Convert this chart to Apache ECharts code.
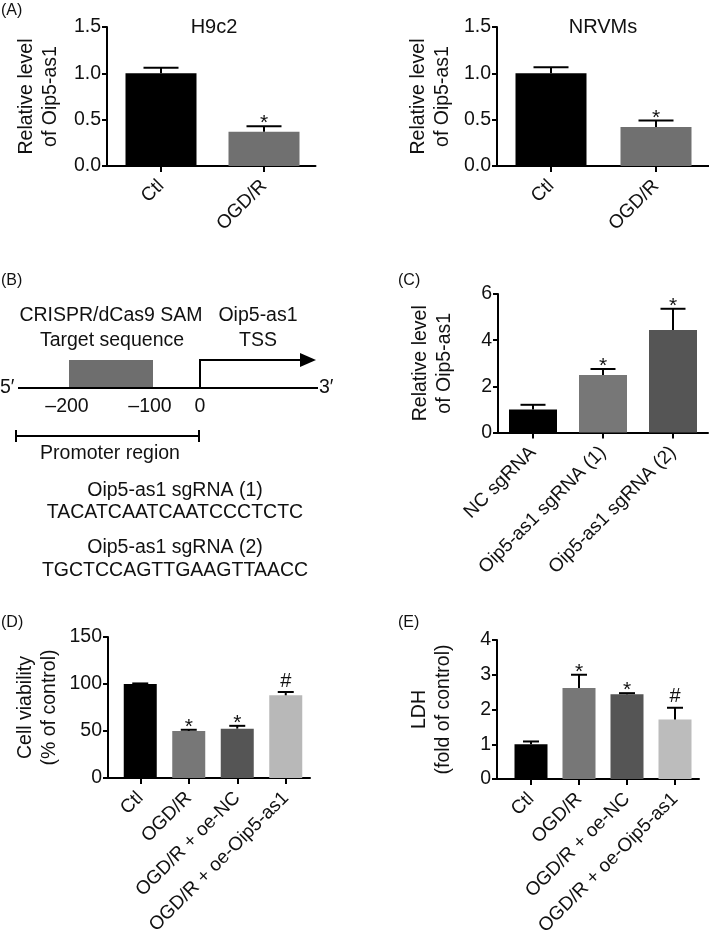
<!DOCTYPE html>
<html><head><meta charset="utf-8">
<script src="https://cdn.jsdelivr.net/npm/echarts@6/dist/echarts.min.js"></script>
<style>html,body{margin:0;padding:0;background:#fff}#c{width:709px;height:938px}</style>
</head><body><div id="c"></div>
<script>
// ---------- data ----------
const catsA = ['Ctl', 'OGD/R'];
const h9c2Vals = [1.0, 0.37];
const h9c2Err = [0.06, 0.06];
const h9c2Marks = ['', '*'];
const nrvmVals = [1.0, 0.42];
const nrvmErr = [0.065, 0.07];
const nrvmMarks = ['', '*'];
const yTicksA = [0, 0.5, 1.0, 1.5];

const catsC = ['NC sgRNA', 'Oip5-as1 sgRNA (1)', 'Oip5-as1 sgRNA (2)'];
const sgVals = [1.0, 2.49, 4.44];
const sgErr = [0.2, 0.26, 0.92];
const sgMarks = ['', '*', '*'];
const yTicksC = [0, 2, 4, 6];

const catsDE = ['Ctl', 'OGD/R', 'OGD/R + oe-NC', 'OGD/R + oe-Oip5-as1'];
const viabVals = [100, 50, 52.5, 88];
const viabErr = [0.6, 1.3, 3.0, 3.5];
const viabMarks = ['', '*', '*', '#'];
const yTicksD = [0, 50, 100, 150];

const ldhVals = [1.0, 2.62, 2.44, 1.71];
const ldhErr = [0.08, 0.38, 0.03, 0.34];
const ldhMarks = ['', '*', '*', '#'];
const yTicksE = [0, 1, 2, 3, 4];

// ---------- styling ----------
const FONT = '"Liberation Sans", Arial, Helvetica, sans-serif';
const INK = '#111';
const grids = [], xAxes = [], yAxes = [], series = [];

function panel(p) {
  const gi = grids.length;
  const ymin = p.ticks[0], ymax = p.ticks[p.ticks.length - 1], step = p.ticks[1] - p.ticks[0];
  const h = p.bottom - p.top;
  // frame grid: y axis + full-length x axis line
  grids.push({left: p.axisX, top: p.top, width: p.catLeft + p.catWidth - p.axisX, height: h, containLabel: false, outerBoundsMode: 'none'});
  xAxes.push({gridIndex: gi, type: 'value', min: 0, max: 1,
    axisLine: {show: true, lineStyle: {color: '#000', width: 2}}, axisTick: {show: false},
    axisLabel: {show: false}, splitLine: {show: false}});
  yAxes.push({gridIndex: gi, type: 'value', min: ymin, max: ymax, interval: step,
    axisLine: {show: true, lineStyle: {color: '#000', width: 2}},
    axisTick: {show: true, length: 5, lineStyle: {color: '#000', width: 2}},
    axisLabel: {margin: 6, fontSize: 19.5, color: INK, fontFamily: FONT, formatter: v => p.fmt(v)},
    splitLine: {show: false},
    name: p.yName, nameLocation: 'middle', nameRotate: 90, nameGap: p.nameGap,
    nameTextStyle: {fontSize: 19.5, lineHeight: 24, color: INK, fontFamily: FONT}});
  // data grid
  const gd = gi + 1;
  grids.push({left: p.catLeft, top: p.top, width: p.catWidth, height: h, containLabel: false, outerBoundsMode: 'none'});
  xAxes.push({gridIndex: gd, type: 'category', data: p.cats,
    axisLine: {show: false},
    axisTick: {show: true, alignWithLabel: true, length: 6, lineStyle: {color: '#000', width: 2}},
    axisLabel: {rotate: 45, margin: 17, fontSize: 19, color: INK, fontFamily: FONT, interval: 0}});
  yAxes.push({gridIndex: gd, type: 'value', min: ymin, max: ymax, show: false});
  series.push({type: 'bar', xAxisIndex: gd, yAxisIndex: gd, barWidth: p.barW, silent: true,
    data: p.vals.map((v, i) => ({value: v, itemStyle: {color: p.colors[i]}}))});
  series.push({type: 'custom', xAxisIndex: gd, yAxisIndex: gd, clip: false, silent: true, z: 5,
    data: p.vals.map((v, i) => [i, v, p.err[i]]),
    renderItem: (params, api) => {
      const i = api.value(0), v = api.value(1), e = api.value(2);
      const b = api.coord([i, v]), t = api.coord([i, v + e]);
      const cw = p.capW / 2;
      const ch = [
        {type: 'line', shape: {x1: b[0], y1: b[1], x2: t[0], y2: t[1]}, style: {stroke: '#000', lineWidth: 2}},
        {type: 'line', shape: {x1: t[0] - cw, y1: t[1], x2: t[0] + cw, y2: t[1]}, style: {stroke: '#000', lineWidth: 2}}
      ];
      const m = p.marks[params.dataIndex];
      if (m) ch.push({type: 'text', x: t[0], y: t[1] + (m === '*' ? 8 : -1),
        style: {text: m, fill: INK, fontSize: m === '*' ? 21 : 20, fontFamily: FONT, align: 'center', textAlign: 'center',
          verticalAlign: 'bottom', textVerticalAlign: 'bottom'}});
      return {type: 'group', children: ch};
    }});
}

const f1 = v => v.toFixed(1), f0 = v => String(v);

panel({cats: catsA, vals: h9c2Vals, err: h9c2Err, marks: h9c2Marks, ticks: yTicksA, fmt: f1,
  colors: ['#000000', '#707070'], axisX: 107, top: 27, bottom: 166, catLeft: 109.5, catWidth: 206,
  barW: 71, capW: 35, yName: 'Relative level\nof Oip5-as1', nameGap: 44});
panel({cats: catsA, vals: nrvmVals, err: nrvmErr, marks: nrvmMarks, ticks: yTicksA, fmt: f1,
  colors: ['#000000', '#707070'], axisX: 497, top: 27, bottom: 166, catLeft: 498.5, catWidth: 210,
  barW: 71, capW: 35, yName: 'Relative level\nof Oip5-as1', nameGap: 42});
panel({cats: catsC, vals: sgVals, err: sgErr, marks: sgMarks, ticks: yTicksC, fmt: f0,
  colors: ['#000000', '#777777', '#555555'], axisX: 498, top: 294, bottom: 432.5, catLeft: 498, catWidth: 210,
  barW: 48, capW: 25, yName: 'Relative level\nof Oip5-as1', nameGap: 41});
panel({cats: catsDE, vals: viabVals, err: viabErr, marks: viabMarks, ticks: yTicksD, fmt: f0,
  colors: ['#000000', '#777777', '#555555', '#b8b8b8'], axisX: 108, top: 637, bottom: 778, catLeft: 116, catWidth: 194,
  barW: 33, capW: 16, yName: 'Cell viability\n(% of control)', nameGap: 46});
panel({cats: catsDE, vals: ldhVals, err: ldhErr, marks: ldhMarks, ticks: yTicksE, fmt: f0,
  colors: ['#000000', '#777777', '#555555', '#bcbcbc'], axisX: 497, top: 640, bottom: 779, catLeft: 507, catWidth: 192,
  barW: 33, capW: 16, yName: 'LDH\n(fold of control)', nameGap: 41});

// ---------- annotations & schematic (panel B) ----------
function T(text, x, y, size, align) {
  align = align || 'center';
  return {type: 'text', x: x, y: y, silent: true,
    style: {text: text, fontSize: size, fontFamily: FONT, fill: INK, align: align, textAlign: align,
      verticalAlign: 'middle', textVerticalAlign: 'middle'}};
}
function L(x1, y1, x2, y2) {
  return {type: 'line', silent: true, shape: {x1, y1, x2, y2}, style: {stroke: '#000', lineWidth: 2}};
}
const S = 19.5;
const graphics = [
  T('(A)', 1, 11, 16, 'left'), T('(B)', 1, 281, 16, 'left'), T('(C)', 398, 281, 16, 'left'),
  T('(D)', 1, 623, 16, 'left'), T('(E)', 398, 623, 16, 'left'),
  T('H9c2', 214, 27, 20), T('NRVMs', 603, 27, 20),
  // schematic
  T('CRISPR/dCas9 SAM', 111, 316, S), T('Target sequence', 112, 341, S),
  T('Oip5-as1', 258, 316, S), T('TSS', 258, 341, S),
  {type: 'rect', silent: true, shape: {x: 69, y: 360, width: 84, height: 28}, style: {fill: '#6e6e6e'}},
  L(18, 388, 318, 388),
  T('5\u2032', 0, 388, S, 'left'), T('3\u2032', 319, 388, S, 'left'),
  L(200, 389, 200, 360), L(199, 360, 304, 360),
  {type: 'polygon', silent: true, shape: {points: [[300, 353], [316, 360], [300, 367]]}, style: {fill: '#000'}},
  T('\u2013200', 67, 407, S), T('\u2013100', 150, 407, S), T('0', 200, 407, S),
  L(16, 436, 199, 436), L(16, 430, 16, 442), L(199, 430, 199, 442),
  T('Promoter region', 110, 454, S),
  T('Oip5-as1 sgRNA (1)', 175, 491, S), T('TACATCAATCAATCCCTCTC', 175, 513, S),
  T('Oip5-as1 sgRNA (2)', 175, 548, S), T('TGCTCCAGTTGAAGTTAACC', 175, 571, S)
];

const chart = echarts.init(document.getElementById('c'), null, {renderer: 'canvas'});
chart.setOption({
  animation: false,
  backgroundColor: '#fff',
  textStyle: {fontFamily: FONT},
  grid: grids, xAxis: xAxes, yAxis: yAxes, series: series,
  graphic: {elements: graphics}
});
</script>
</body></html>
